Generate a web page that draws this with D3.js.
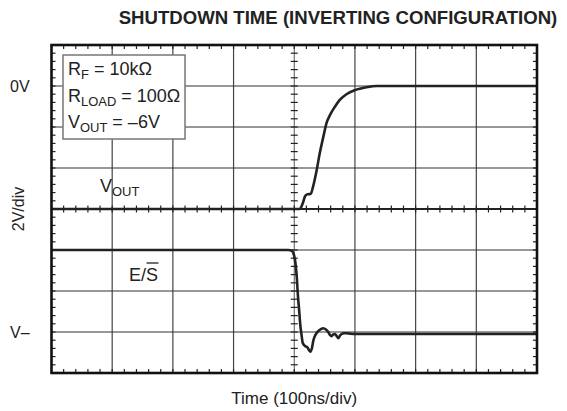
<!DOCTYPE html>
<html>
<head>
<meta charset="utf-8">
<script src="https://cdn.jsdelivr.net/npm/d3@7"></script>
<style>
  body { margin: 0; background: #fff; }
  svg text { font-family: "Liberation Sans", Arial, sans-serif; fill: #222; }
</style>
</head>
<body>
<div id="chart"></div>
<script>
// scope screen: 8 x 8 divisions, time in ns (100ns/div), vertical in divisions from center
const timeDomain = [-400, 400];
const divDomain = [-4, 4];

// V_OUT trace (ns, volts) - 0V sits 3 div above center, 2V/div
const voutTime  = [-400, 9, 14, 18, 22, 27, 31, 37, 42, 48, 53, 59, 67, 75, 86, 100, 119, 136, 400];
const voutVolts = [-6, -6, -5.72, -5.37, -5.28, -5.27, -4.91, -4.10, -3.28, -2.47, -1.82, -1.41, -1.01, -0.68, -0.40, -0.20, -0.06, 0, 0];

// E/S trace (ns, divisions from center)
const esTime = [-400, -10, -4, -0.5, 2, 4, 6, 8, 10, 12, 14, 17.6, 21.4, 24.2, 26.7, 29.2, 31.3, 35.7, 39.5, 44, 47.8, 52.2, 56, 58.8, 61.6, 64.3, 67.1, 69.9, 72.5, 75.3, 78.1, 81.9, 86.3, 91.8, 100, 400];
const esDiv  = [-1, -1, -1.02, -1.12, -1.32, -1.63, -2.10, -2.46, -2.83, -3.07, -3.27, -3.34, -3.37, -3.44, -3.48, -3.39, -3.22, -3.05, -2.98, -2.93, -2.91, -2.94, -3.0, -3.07, -3.10, -3.06, -3.05, -3.10, -3.15, -3.09, -3.05, -3.03, -3.03, -3.04, -3.05, -3.05];

const gridTimes = d3.range(-300, 301, 100);
const gridDivs = d3.range(-3, 4, 1);

const svg = d3.select("#chart").append("svg")
  .attr("width", 567)
  .attr("height", 411);

const x = d3.scaleLinear().domain(timeDomain).range([51.5, 537]);
const y = d3.scaleLinear().domain(divDomain).range([373, 45]);
const voltToDiv = v => (v + 6) / 2;

// title
svg.append("text")
  .attr("x", 338).attr("y", 24)
  .attr("text-anchor", "middle")
  .attr("font-size", 18.6).attr("font-weight", "bold")
  .text("SHUTDOWN TIME (INVERTING CONFIGURATION)");

// grid lines
svg.selectAll(".vgrid")
  .data(gridTimes.filter(t => t !== 0))
  .enter().append("line")
  .attr("x1", d => x(d)).attr("x2", d => x(d))
  .attr("y1", y(4)).attr("y2", y(-4))
  .attr("stroke", "#444").attr("stroke-width", 1.2);

svg.selectAll(".hgrid")
  .data(gridDivs.filter(d => d !== 0))
  .enter().append("line")
  .attr("x1", x(-400)).attr("x2", x(400))
  .attr("y1", d => y(d)).attr("y2", d => y(d))
  .attr("stroke", "#333").attr("stroke-width", 1.2);

// center cross
svg.append("line")
  .attr("x1", x(0)).attr("x2", x(0))
  .attr("y1", y(4)).attr("y2", y(-4))
  .attr("stroke", "#555").attr("stroke-width", 1);
svg.append("line")
  .attr("x1", x(-400)).attr("x2", x(400))
  .attr("y1", y(0)).attr("y2", y(0))
  .attr("stroke", "#222").attr("stroke-width", 2.2);

// minor ticks every 0.2 div
const minorT = d3.range(-400, 400.1, 20);
const minorD = d3.range(-4, 4.01, 0.2);
const tickG = svg.append("g").attr("stroke", "#222").attr("stroke-width", 1.2);

minorT.forEach(t => {
  tickG.append("line").attr("x1", x(t)).attr("x2", x(t)).attr("y1", y(0) - 3.5).attr("y2", y(0) + 3.5);
  tickG.append("line").attr("x1", x(t)).attr("x2", x(t)).attr("y1", y(4)).attr("y2", y(4) + 4);
  tickG.append("line").attr("x1", x(t)).attr("x2", x(t)).attr("y1", y(-4)).attr("y2", y(-4) - 4);
});
minorD.forEach(d => {
  tickG.append("line").attr("x1", x(0) - 3.5).attr("x2", x(0) + 3.5).attr("y1", y(d)).attr("y2", y(d));
  tickG.append("line").attr("x1", x(-400)).attr("x2", x(-400) + 4).attr("y1", y(d)).attr("y2", y(d));
  tickG.append("line").attr("x1", x(400)).attr("x2", x(400) - 4).attr("y1", y(d)).attr("y2", y(d));
});

// legend box
const box = svg.append("g");
box.append("rect")
  .attr("x", 63).attr("y", 55).attr("width", 122).attr("height", 84)
  .attr("fill", "#fff").attr("stroke", "#777").attr("stroke-width", 1.5);

function subText(g, xx, yy, main, sub, rest, size) {
  const t = g.append("text").attr("x", xx).attr("y", yy).attr("font-size", size);
  t.append("tspan").text(main);
  t.append("tspan").attr("font-size", size * 0.72).attr("dy", 4).text(sub);
  if (rest) t.append("tspan").attr("dy", -4).text(rest);
  return t;
}
subText(box, 68, 75, "R", "F", " = 10kΩ", 18);
subText(box, 68, 101.5, "R", "LOAD", " = 100Ω", 18);
subText(box, 68, 127.5, "V", "OUT", " = –6V", 18);

// channel labels
subText(svg, 100, 192, "V", "OUT", null, 18);
svg.append("text").attr("x", 129).attr("y", 281).attr("font-size", 18).text("E/S");
svg.append("line")
  .attr("x1", 146.5).attr("x2", 158.5).attr("y1", 263).attr("y2", 263)
  .attr("stroke", "#222").attr("stroke-width", 1.3);

// axis labels
svg.append("text").attr("x", 10).attr("y", y(3) + 6).attr("font-size", 16).text("0V");
svg.append("text").attr("x", 10).attr("y", y(-3) + 6).attr("font-size", 16).text("V–");
svg.append("text")
  .attr("transform", `translate(24, ${y(0)}) rotate(-90)`)
  .attr("text-anchor", "middle").attr("font-size", 16).text("2V/div");
svg.append("text")
  .attr("x", x(0)).attr("y", 404)
  .attr("text-anchor", "middle").attr("font-size", 17)
  .text("Time (100ns/div)");

// traces
const line = d3.line().curve(d3.curveMonotoneX);
svg.append("path")
  .attr("d", line(voutTime.map((t, i) => [x(t), y(voltToDiv(voutVolts[i]))])))
  .attr("fill", "none").attr("stroke", "#222").attr("stroke-width", 2.6);
svg.append("path")
  .attr("d", line(esTime.map((t, i) => [x(t), y(esDiv[i])])))
  .attr("fill", "none").attr("stroke", "#222").attr("stroke-width", 2.6);

// frame
svg.append("rect")
  .attr("x", x(-400)).attr("y", y(4))
  .attr("width", x(400) - x(-400)).attr("height", y(-4) - y(4))
  .attr("fill", "none").attr("stroke", "#111").attr("stroke-width", 2.6);
</script>
</body>
</html>
